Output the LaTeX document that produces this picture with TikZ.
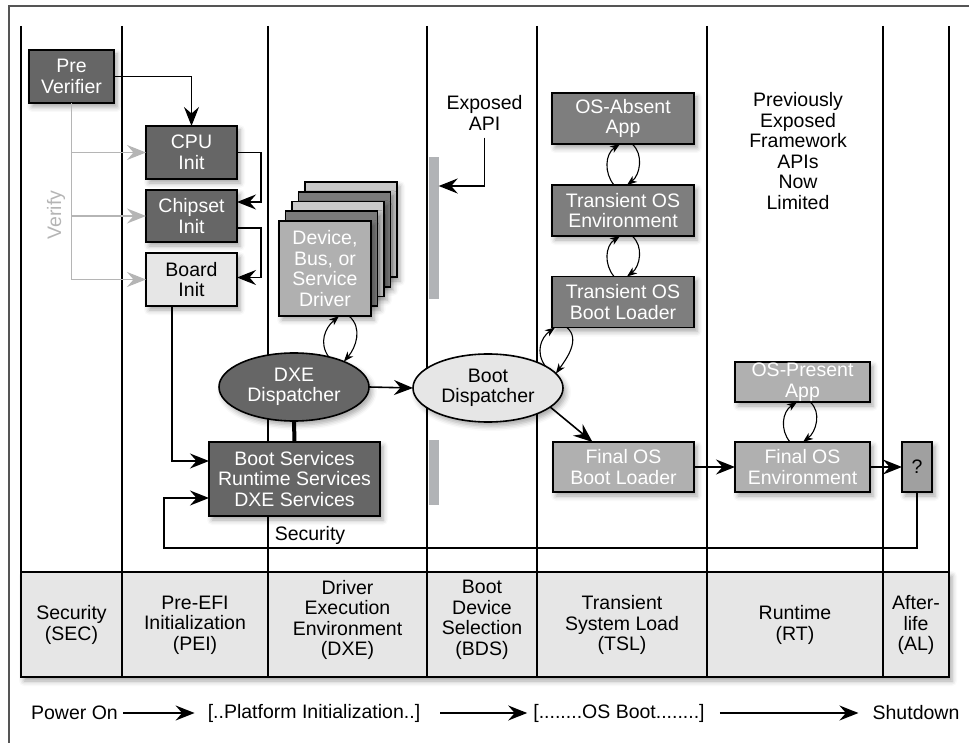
\documentclass[tikz,border=0pt]{standalone}
\usepackage{fontspec}
\setmainfont{Liberation Sans}
\usetikzlibrary{arrows.meta,shadows.blur,shapes.geometric}
\definecolor{dk}{HTML}{666666}
\definecolor{md}{HTML}{7E7E7E}
\definecolor{lt}{HTML}{B0B0B0}
\definecolor{pale}{HTML}{E6E6E6}
\definecolor{qc}{HTML}{A0A0A0}
\definecolor{vg}{HTML}{B5B5B5}
\definecolor{barc}{HTML}{B1B3B6}
\definecolor{stkd}{HTML}{7A7A7A}
\definecolor{stkl}{HTML}{C8C8C8}
\definecolor{frm}{HTML}{555555}
\begin{document}
\begin{tikzpicture}[x=1pt,y=-1pt,
  font=\fontsize{19.5}{20.5}\selectfont,
  shad/.style={blur shadow={shadow xshift=3pt,shadow yshift=-4pt,shadow blur radius=5pt,shadow opacity=35}},
  box/.style={draw=black,line width=1.6pt,inner sep=0pt,outer sep=0pt,align=center,shad},
  dkbox/.style={box,fill=dk,text=white},
  mdbox/.style={box,fill=md,text=white},
  ltbox/.style={box,fill=lt,text=white},
  ell/.style={ellipse,draw=black,line width=1.6pt,inner sep=0pt,outer sep=0pt,align=center,minimum width=150pt,minimum height=68pt,shad},
  txt/.style={inner sep=0pt,align=center},
  arr/.style={-{Stealth[length=19pt,width=15pt,inset=6.5pt]},line width=1.6pt},
  varr/.style={-{Stealth[length=19pt,width=15pt,inset=6.5pt]},line width=1.6pt,draw=vg},
  biarr/.style={-{Stealth[length=10pt,width=7.5pt,inset=3pt]},line width=1.1pt},
  lane/.style={line width=2.2pt},
]
\useasboundingbox (0,0) rectangle (969,743);
% frame
\draw[line width=2pt,frm] (9,743) -- (9,6) -- (969,6);
% lanes
\foreach \x in {21,122,268,427,537,707,883,949} \draw[lane] (\x,26) -- (\x,572);
% phase band
\node[draw=black,line width=1.6pt,fill=pale,minimum width=928pt,minimum height=105pt,inner sep=0pt,shad] (band) at (485,624.5) {};
\foreach \x in {122,268,427,537,707,883} \draw[line width=1.6pt] (\x,572) -- (\x,677);
\node[txt] (psec) at (71.5,625) {Security\\(SEC)};
\node[txt] (ppei) at (195,625) {Pre-EFI\\Initialization\\(PEI)};
\node[txt] (pdxe) at (347.5,620) {Driver\\Execution\\Environment\\(DXE)};
\node[txt] (pbds) at (482,620) {Boot\\Device\\Selection\\(BDS)};
\node[txt] (ptsl) at (622,625) {Transient\\System Load\\(TSL)};
\node[txt] (prt) at (795,625) {Runtime\\(RT)};
\node[txt] (pal) at (916,625) {After-\\life\\(AL)};
% API bars
\node[fill=barc,minimum width=10pt,minimum height=142pt,inner sep=0pt] (bar1) at (433.5,228) {};
\node[fill=barc,minimum width=10pt,minimum height=65pt,inner sep=0pt] (bar2) at (433.5,472.5) {};
% SEC / PEI nodes
\node[dkbox,minimum width=85pt,minimum height=53pt] (prever) at (71.5,76.5) {Pre\\Verifier};
\node[dkbox,minimum width=91pt,minimum height=53pt] (cpu) at (191.5,152.5) {CPU\\Init};
\node[dkbox,minimum width=91pt,minimum height=52pt] (chip) at (191.5,216) {Chipset\\Init};
\node[box,fill=pale,minimum width=91pt,minimum height=53pt] (board) at (191.5,279.5) {Board\\Init};
\node[txt,rotate=90,text=vg] (verify) at (56,215) {Verify};
% driver stack
\node[box,fill=stkl,minimum width=92pt,minimum height=95pt] (drv4) at (351,229.5) {};
\node[box,fill=stkd,minimum width=92pt,minimum height=95pt] (drv3) at (344.5,239.25) {};
\node[box,fill=stkl,minimum width=92pt,minimum height=95pt] (drv2) at (338,249) {};
\node[box,fill=stkd,minimum width=92pt,minimum height=95pt] (drv1) at (331.5,258.75) {};
\node[ltbox,minimum width=92pt,minimum height=95pt] (drv) at (325,268.5) {Device,\\Bus, or\\Service\\Driver};
% dispatchers
\node[ell,fill=dk,text=white] (dxe) at (294,387) {DXE\\Dispatcher};
\node[ell,fill=pale] (bootdisp) at (488,388) {Boot\\Dispatcher};
\node[dkbox,minimum width=171pt,minimum height=74pt] (bootsvc) at (294.5,479) {Boot Services\\Runtime Services\\DXE Services};
% TSL
\node[mdbox,minimum width=142pt,minimum height=51pt] (osabsent) at (623,118.5) {OS-Absent\\App};
\node[mdbox,minimum width=142pt,minimum height=51pt] (tosenv) at (623,210.5) {Transient OS\\Environment};
\node[mdbox,minimum width=142pt,minimum height=51pt] (tosbl) at (623,302) {Transient OS\\Boot Loader};
\node[ltbox,minimum width=141pt,minimum height=50pt] (finalbl) at (623.5,467) {Final OS\\Boot Loader};
% RT / AL
\node[ltbox,minimum width=135pt,minimum height=40pt] (ospresent) at (802.5,382) {OS-Present\\App};
\node[ltbox,minimum width=135pt,minimum height=50pt] (finalenv) at (802.5,467) {Final OS\\Environment};
\node[box,fill=qc,minimum width=30pt,minimum height=50pt] (qbox) at (917,467) {?};
% texts
\node[txt] (expapi) at (484.5,113) {Exposed\\API};
\node[txt] (prevtxt) at (798,151) {Previously\\Exposed\\Framework\\APIs\\Now\\Limited};
\node[txt] (seclbl) at (310,535) {Security};
% connectors
\draw[arr] (prever.east) -| (cpu.north);
\draw[arr] (cpu.east) -- ++(24,0) |- ([yshift=14pt]chip.east);
\draw[arr] ([yshift=-12pt]chip.east) -- ++(24,0) |- ([yshift=2pt]board.east);
\draw[varr] (prever.south) |- (board.west);
\draw[varr] (prever.south |- cpu.west) -- (cpu.west);
\draw[varr] (prever.south |- chip.west) -- (chip.west);
\draw[arr] ([xshift=-19.5pt]board.south) |- ([yshift=18pt]bootsvc.west);
\coordinate (secl) at (164,548);
\draw[arr] (qbox.south) |- (secl) |- ([yshift=-19pt]bootsvc.west);
\draw[line width=4pt] (dxe.south) -- (bootsvc.north);
\draw[arr] (dxe.east) -- (bootdisp.west);
\draw[arr] ([yshift=-7pt]expapi.south) |- ([yshift=42pt]bar1.east);
\draw[arr] (bootdisp.-17) -- ([xshift=-31pt]finalbl.north);
\draw[arr] (finalbl.east) -- (finalenv.west);
\draw[arr] (finalenv.east) -- (qbox.west);
% bidirectional arcs
\draw[biarr] (dxe.41) .. controls +(-10,-14) and +(-14,12) .. ([xshift=14pt]drv.south);
\draw[biarr] ([xshift=24pt]drv.south) .. controls +(14,12) and +(12,-14) .. (dxe.27);
\draw[biarr] ([xshift=-9pt]tosenv.north) .. controls +(-10,-12) and +(-15,10) .. ([xshift=-3pt]osabsent.south);
\draw[biarr] ([xshift=9pt]osabsent.south) .. controls +(12,10) and +(13,-10) .. ([xshift=4pt]tosenv.north);
\draw[biarr] ([xshift=-9pt]tosbl.north) .. controls +(-10,-12) and +(-15,10) .. ([xshift=-3pt]tosenv.south);
\draw[biarr] ([xshift=9pt]tosenv.south) .. controls +(12,10) and +(13,-10) .. ([xshift=4pt]tosbl.north);
\draw[biarr] (bootdisp.21) .. controls +(-10,-14) and +(-14,10) .. ([xshift=-68pt]tosbl.south);
\draw[biarr] ([xshift=-56pt]tosbl.south) .. controls +(14,12) and +(10,-14) .. (bootdisp.12);
\draw[biarr] ([xshift=-12.5pt]finalenv.north) .. controls +(-10,-12) and +(-15,10) .. ([xshift=-5.5pt]ospresent.south);
\draw[biarr] ([xshift=7.5pt]ospresent.south) .. controls +(12,10) and +(13,-10) .. ([xshift=0.5pt]finalenv.north);
% bottom timeline
\node[txt] (pon) at (74.5,713) {Power On};
\node[txt] (pinit) at (314,713) {[..Platform Initialization..]};
\node[txt] (osboot) at (619,713) {[........OS Boot........]};
\node[txt] (shut) at (916,713) {Shutdown};
\draw[arr] ([xshift=5pt]pon.east) -- ([xshift=-13pt]pinit.west);
\draw[arr] ([xshift=20pt]pinit.east) -- ([xshift=-6pt]osboot.west);
\draw[arr] ([xshift=15pt]osboot.east) -- ([xshift=-14pt]shut.west);
\end{tikzpicture}
\end{document}
